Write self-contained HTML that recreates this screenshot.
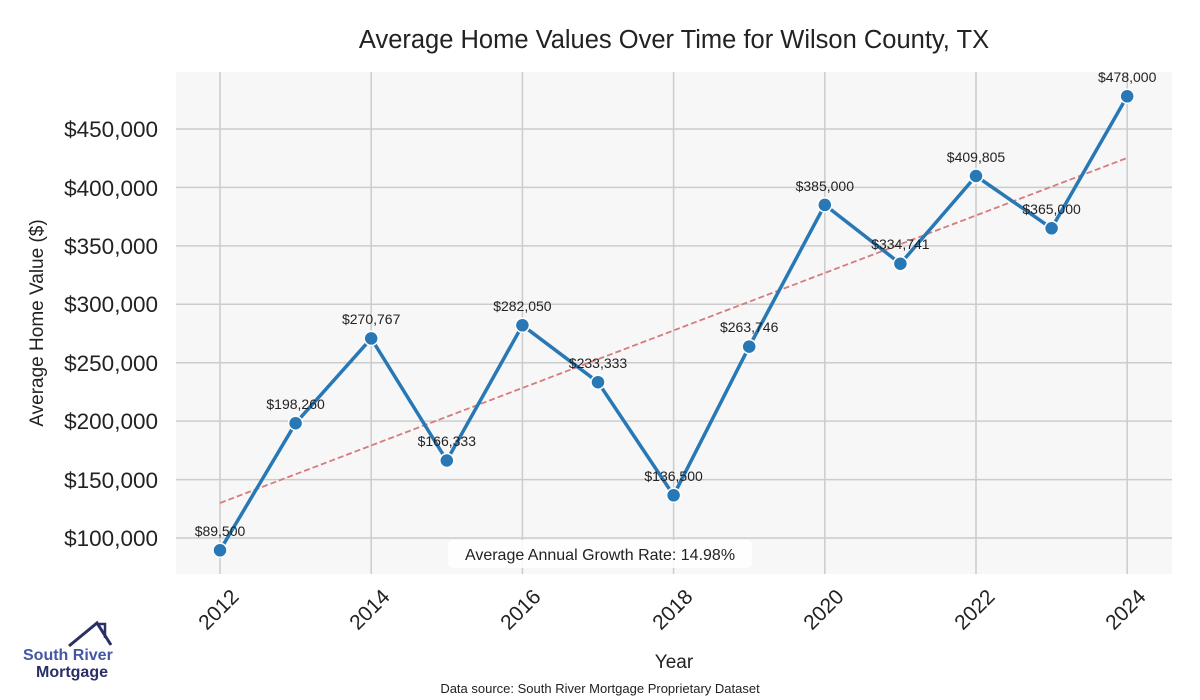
<!DOCTYPE html>
<html><head><meta charset="utf-8"><style>
body{margin:0;background:#fff;}
svg{display:block;font-family:"Liberation Sans",sans-serif;}
</style></head><body>
<svg width="1200" height="700" viewBox="0 0 1200 700">
<rect width="1200" height="700" fill="#fff"/>
<rect x="176" y="72" width="996" height="502" fill="#f7f7f7"/>
<g stroke="#cccccc" stroke-width="1.5">
<line x1="176" x2="1172" y1="538" y2="538"/><line x1="176" x2="1172" y1="479.6" y2="479.6"/>
<line x1="176" x2="1172" y1="421.1" y2="421.1"/><line x1="176" x2="1172" y1="362.7" y2="362.7"/>
<line x1="176" x2="1172" y1="304.3" y2="304.3"/><line x1="176" x2="1172" y1="245.9" y2="245.9"/>
<line x1="176" x2="1172" y1="187.4" y2="187.4"/><line x1="176" x2="1172" y1="129" y2="129"/>
<line y1="72" y2="574" x1="220" x2="220"/><line y1="72" y2="574" x1="371.2" x2="371.2"/>
<line y1="72" y2="574" x1="522.4" x2="522.4"/><line y1="72" y2="574" x1="673.6" x2="673.6"/>
<line y1="72" y2="574" x1="824.8" x2="824.8"/><line y1="72" y2="574" x1="976" x2="976"/>
<line y1="72" y2="574" x1="1127.2" x2="1127.2"/>
</g>
<text x="674" y="48" text-anchor="middle" font-size="25.5" fill="#222">Average Home Values Over Time for Wilson County, TX</text>
<g font-size="22.5" fill="#222" text-anchor="end">
<text x="158" y="546">$100,000</text><text x="158" y="488">$150,000</text><text x="158" y="429">$200,000</text>
<text x="158" y="371">$250,000</text><text x="158" y="312">$300,000</text><text x="158" y="254">$350,000</text>
<text x="158" y="196">$400,000</text><text x="158" y="137">$450,000</text>
</g>
<text transform="translate(43,323) rotate(-90)" text-anchor="middle" font-size="19" fill="#222">Average Home Value ($)</text>
<g font-size="21" fill="#222" text-anchor="end">
<text transform="translate(240,598) rotate(-45)">2012</text>
<text transform="translate(391,598) rotate(-45)">2014</text>
<text transform="translate(542,598) rotate(-45)">2016</text>
<text transform="translate(694,598) rotate(-45)">2018</text>
<text transform="translate(845,598) rotate(-45)">2020</text>
<text transform="translate(996,598) rotate(-45)">2022</text>
<text transform="translate(1147,598) rotate(-45)">2024</text>
</g>
<text x="674" y="668" text-anchor="middle" font-size="19" fill="#222">Year</text>
<line x1="220" y1="503" x2="1127" y2="158" stroke="#d97b7b" stroke-width="1.8" stroke-dasharray="6,3"/>
<polyline fill="none" stroke="#2878b5" stroke-width="3.5" stroke-linejoin="round" points="220,550.3 295.6,423.2 371.2,338.4 446.8,460.5 522.4,325.3 598,382.2 673.6,495.3 749.2,346.6 824.8,204.9 900.4,263.7 976,176 1051.6,228.3 1127.2,96.3"/>
<g fill="#2878b5" stroke="#fff" stroke-width="1.5">
<circle cx="220" cy="550.3" r="7"/><circle cx="295.6" cy="423.2" r="7"/><circle cx="371.2" cy="338.4" r="7"/>
<circle cx="446.8" cy="460.5" r="7"/><circle cx="522.4" cy="325.3" r="7"/><circle cx="598" cy="382.2" r="7"/>
<circle cx="673.6" cy="495.3" r="7"/><circle cx="749.2" cy="346.6" r="7"/><circle cx="824.8" cy="204.9" r="7"/>
<circle cx="900.4" cy="263.7" r="7"/><circle cx="976" cy="176" r="7"/><circle cx="1051.6" cy="228.3" r="7"/>
<circle cx="1127.2" cy="96.3" r="7"/>
</g>
<g font-size="14" fill="#222" text-anchor="middle">
<text x="220" y="536">$89,500</text><text x="295.6" y="409">$198,260</text><text x="371.2" y="324">$270,767</text>
<text x="446.8" y="446">$166,333</text><text x="522.4" y="311">$282,050</text><text x="598" y="368">$233,333</text>
<text x="673.6" y="481">$136,500</text><text x="749.2" y="332">$263,746</text><text x="824.8" y="191">$385,000</text>
<text x="900.4" y="249">$334,741</text><text x="976" y="162">$409,805</text><text x="1051.6" y="214">$365,000</text>
<text x="1127.2" y="82">$478,000</text>
</g>
<rect x="448" y="540" width="304" height="28" rx="5" fill="#fff" opacity="0.85"/>
<text x="600" y="560" text-anchor="middle" font-size="16" fill="#222">Average Annual Growth Rate: 14.98%</text>
<text x="600" y="693" text-anchor="middle" font-size="13" fill="#222">Data source: South River Mortgage Proprietary Dataset</text>
<polyline points="69,646 97,623 111,645" fill="none" stroke="#2a2f66" stroke-width="3"/>
<polyline points="99,626 99,624 105,624 105,638" fill="none" stroke="#2a2f66" stroke-width="2.5"/>
<text x="23" y="660" font-size="16" font-weight="bold" fill="#4457a6">South River</text>
<text x="36" y="677" font-size="16" font-weight="bold" fill="#2a2f66">Mortgage</text>
</svg>
</body></html>
